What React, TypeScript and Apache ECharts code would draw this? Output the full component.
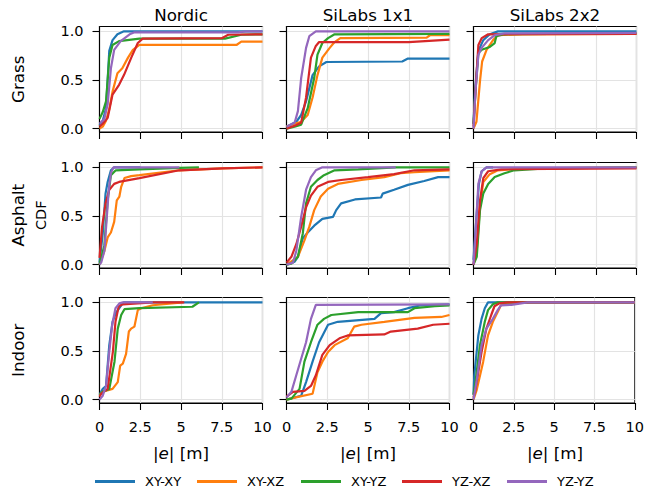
import React, { useEffect, useRef } from "react";
import * as echarts from "echarts";

type Pt = [number, number];

const seriesNames = ["XY-XY", "XY-XZ", "XY-YZ", "YZ-XZ", "YZ-YZ"];
const colors = ["#1f77b4", "#ff7f0e", "#2ca02c", "#d62728", "#9467bd"];
const columnTitles = ["Nordic", "SiLabs 1x1", "SiLabs 2x2"];
const rowLabels = ["Grass", "Asphalt", "Indoor"];
const xTicks = [0, 2.5, 5, 7.5, 10];
const yTicks = [0, 0.5, 1];

// each panel: [XY-XY, XY-XZ, XY-YZ, YZ-XZ, YZ-YZ], points [|e| in m, CDF]
const grassNordic: Pt[][] = [
  [[0, 0.03], [0.2, 0.08], [0.4, 0.21], [0.5, 0.5], [0.6, 0.8], [0.8, 0.91], [1.1, 0.97], [1.5, 1.0], [10, 1.0]],
  [[0, 0], [0.2, 0.02], [0.4, 0.08], [0.6, 0.2], [0.8, 0.38], [1.1, 0.57], [1.4, 0.62], [1.75, 0.73], [2.05, 0.81], [2.45, 0.86], [8.4, 0.86], [8.7, 0.895], [10, 0.895]],
  [[0, 0.1], [0.2, 0.17], [0.4, 0.28], [0.5, 0.5], [0.6, 0.73], [0.8, 0.86], [1.2, 0.9], [2.45, 0.925], [7.7, 0.925], [8.7, 0.965], [10, 0.97]],
  [[0, 0.02], [0.2, 0.05], [0.5, 0.11], [0.8, 0.35], [1.2, 0.45], [1.5, 0.55], [1.95, 0.73], [2.35, 0.88], [2.65, 0.925], [7.5, 0.93], [7.9, 0.965], [10, 0.97]],
  [[0, 0.05], [0.3, 0.1], [0.5, 0.25], [0.7, 0.62], [0.9, 0.81], [1.3, 0.9], [1.85, 0.97], [2.15, 0.99], [8.5, 0.99], [9, 1.0], [10, 1.0]],
];
const grassSiLabs1: Pt[][] = [
  [[0, 0.02], [0.6, 0.07], [0.9, 0.14], [1.2, 0.28], [1.6, 0.55], [2.0, 0.64], [2.45, 0.685], [7.1, 0.69], [7.45, 0.72], [10, 0.72]],
  [[0, 0.02], [0.5, 0.05], [0.9, 0.07], [1.3, 0.14], [1.6, 0.32], [1.9, 0.55], [2.2, 0.73], [2.65, 0.83], [2.95, 0.89], [3.3, 0.93], [8.6, 0.935], [8.8, 0.96], [10, 0.96]],
  [[0, 0], [0.5, 0.02], [0.9, 0.04], [1.3, 0.21], [1.7, 0.52], [1.9, 0.76], [2.2, 0.88], [2.55, 0.93], [2.95, 0.97], [10, 0.975]],
  [[0, 0], [0.5, 0.03], [0.9, 0.06], [1.2, 0.32], [1.5, 0.73], [1.8, 0.85], [2.0, 0.89], [7.5, 0.89], [10, 0.915]],
  [[0, 0.02], [0.5, 0.06], [0.7, 0.18], [0.9, 0.52], [1.2, 0.83], [1.4, 0.95], [1.8, 1.0], [10, 1.0]],
];
const grassSiLabs2: Pt[][] = [
  [[0, 0.05], [0.1, 0.4], [0.3, 0.8], [0.6, 0.91], [1.0, 0.97], [1.5, 1.0], [10, 1.0]],
  [[0, 0], [0.18, 0.07], [0.4, 0.49], [0.53, 0.69], [0.8, 0.81], [1.2, 0.91], [1.5, 0.96], [3, 0.97], [10, 0.975]],
  [[0, 0.05], [0.12, 0.38], [0.3, 0.78], [0.5, 0.81], [1.0, 0.84], [1.3, 0.88], [1.4, 0.95], [1.9, 0.97], [10, 0.98]],
  [[0, 0.02], [0.18, 0.55], [0.3, 0.86], [0.5, 0.93], [0.9, 0.97], [10, 0.975]],
  [[0, 0], [0.12, 0.38], [0.3, 0.76], [0.5, 0.83], [0.9, 0.91], [1.3, 0.96], [1.9, 0.98], [10, 0.985]],
];
const asphaltNordic: Pt[][] = [
  [[0, 0.02], [0.2, 0.32], [0.37, 0.73], [0.5, 0.85], [0.7, 0.97], [0.9, 1.0], [2.5, 1.0]],
  [[0, 0], [0.3, 0.14], [0.5, 0.28], [0.7, 0.33], [0.9, 0.44], [1.06, 0.66], [1.22, 0.7], [1.33, 0.8], [1.53, 0.89], [1.94, 0.91], [2.45, 0.92], [4.9, 0.97], [7.55, 0.99], [10, 1.0]],
  [[0, 0], [0.3, 0.2], [0.5, 0.66], [0.7, 0.92], [1.0, 0.97], [2.45, 0.98], [4.9, 0.995], [6.1, 1.0]],
  [[0, 0.07], [0.16, 0.39], [0.37, 0.63], [0.6, 0.77], [0.9, 0.83], [1.2, 0.85], [2.45, 0.89], [4.9, 0.97], [7.55, 0.99], [10, 1.0]],
  [[0, 0], [0.1, 0.02], [0.3, 0.14], [0.45, 0.49], [0.57, 0.77], [0.7, 0.94], [0.85, 1.0], [4.9, 1.0]],
];
const asphaltSiLabs1: Pt[][] = [
  [[0, 0], [0.5, 0.03], [0.7, 0.08], [1.0, 0.27], [1.3, 0.33], [1.7, 0.4], [2.2, 0.47], [2.85, 0.49], [3.05, 0.56], [3.35, 0.63], [4.2, 0.67], [5.8, 0.69], [5.9, 0.73], [6.6, 0.77], [7.45, 0.82], [8.45, 0.86], [9.3, 0.9], [10, 0.9]],
  [[0, 0], [0.7, 0.08], [1.1, 0.25], [1.4, 0.39], [1.7, 0.56], [2.1, 0.7], [2.55, 0.78], [3.15, 0.83], [4.6, 0.87], [6.0, 0.9], [7.0, 0.94], [7.85, 0.95], [10, 0.97]],
  [[0, 0], [0.3, 0.01], [0.7, 0.08], [1.0, 0.32], [1.2, 0.63], [1.5, 0.8], [1.9, 0.87], [2.3, 0.92], [2.95, 0.97], [4.4, 0.98], [6.7, 1.0], [10, 1.0]],
  [[0, 0.02], [0.3, 0.08], [0.6, 0.21], [0.9, 0.39], [1.2, 0.59], [1.5, 0.71], [1.9, 0.8], [2.55, 0.85], [3.35, 0.87], [5.0, 0.9], [6.6, 0.93], [7.85, 0.97], [10, 0.98]],
  [[0, 0], [0.4, 0.02], [0.6, 0.14], [0.9, 0.49], [1.2, 0.77], [1.5, 0.9], [1.8, 0.97], [2.2, 1.0], [6.7, 1.0]],
];
const asphaltSiLabs2: Pt[][] = [
  [[0, 0.05], [0.18, 0.49], [0.33, 0.83], [0.5, 0.96], [0.8, 1.0], [1.2, 1.0]],
  [[0, 0], [0.2, 0.14], [0.4, 0.6], [0.6, 0.85], [1.0, 0.93], [1.5, 0.97], [3.35, 0.99], [10, 1.0]],
  [[0, 0], [0.2, 0.08], [0.4, 0.56], [0.6, 0.73], [0.9, 0.83], [1.3, 0.9], [1.9, 0.94], [2.5, 0.97], [4.4, 0.99], [10, 1.0]],
  [[0, 0], [0.2, 0.21], [0.4, 0.66], [0.6, 0.89], [0.9, 0.96], [1.7, 0.98], [10, 0.99]],
  [[0, 0], [0.12, 0.32], [0.3, 0.83], [0.5, 0.96], [0.8, 1.0], [10, 1.0]],
];
const indoorNordic: Pt[][] = [
  [[0, 0.05], [0.2, 0.11], [0.4, 0.14], [0.6, 0.56], [0.8, 0.8], [1.0, 0.89], [1.33, 0.97], [1.5, 1.0], [10, 1.0]],
  [[0, 0.05], [0.2, 0.08], [0.8, 0.11], [1.12, 0.18], [1.27, 0.35], [1.43, 0.37], [1.63, 0.47], [1.8, 0.7], [1.94, 0.73], [2.14, 0.75], [2.35, 0.92], [2.55, 0.94], [3.27, 0.97], [5.1, 1.0]],
  [[0, 0.05], [0.2, 0.08], [0.6, 0.11], [0.92, 0.39], [1.12, 0.73], [1.33, 0.87], [1.53, 0.93], [2.45, 0.94], [5.7, 0.955], [6.1, 1.0]],
  [[0, 0.03], [0.1, 0.06], [0.5, 0.11], [0.82, 0.49], [0.98, 0.8], [1.18, 0.96], [1.43, 0.98], [3.27, 1.0], [5.2, 1.0]],
  [[0, 0], [0.2, 0.04], [0.4, 0.14], [0.6, 0.49], [0.78, 0.77], [0.98, 0.94], [1.22, 0.99], [1.43, 1.0], [3.27, 1.0]],
];
const indoorSiLabs1: Pt[][] = [
  [[0, 0], [0.9, 0.04], [1.2, 0.18], [1.6, 0.39], [2.0, 0.59], [2.55, 0.77], [3.15, 0.8], [5.4, 0.83], [5.8, 0.89], [6.6, 0.9], [7.45, 0.94], [8.25, 0.97], [10, 0.98]],
  [[0, 0], [0.5, 0.02], [1.6, 0.06], [1.9, 0.28], [2.2, 0.39], [2.55, 0.49], [2.95, 0.56], [3.75, 0.63], [4.15, 0.75], [4.6, 0.77], [6.0, 0.8], [7.85, 0.84], [9.5, 0.85], [10, 0.87]],
  [[0, 0], [0.3, 0.01], [0.8, 0.11], [1.1, 0.39], [1.5, 0.59], [1.9, 0.77], [2.3, 0.83], [2.75, 0.87], [4.4, 0.9], [7.45, 0.9], [7.85, 0.94], [9.1, 0.96], [10, 0.97]],
  [[0, 0.03], [0.4, 0.08], [1.1, 0.09], [1.5, 0.14], [1.8, 0.25], [2.2, 0.46], [2.65, 0.56], [3.25, 0.63], [3.75, 0.66], [6.0, 0.67], [6.4, 0.7], [8.05, 0.73], [9.0, 0.77], [10, 0.78]],
  [[0, 0.02], [0.3, 0.08], [0.6, 0.25], [0.9, 0.42], [1.2, 0.59], [1.5, 0.83], [1.8, 0.975], [10, 0.98]],
];
const indoorSiLabs2: Pt[][] = [
  [[0, 0.05], [0.05, 0.25], [0.3, 0.66], [0.5, 0.83], [0.7, 0.94], [0.9, 1.0], [10, 1.0]],
  [[0, 0], [0.2, 0.1], [0.6, 0.39], [0.9, 0.66], [1.2, 0.8], [1.5, 0.9], [1.7, 0.97], [2.35, 1.0], [10, 1.0]],
  [[0, 0.05], [0.1, 0.15], [0.4, 0.56], [0.7, 0.8], [0.9, 0.92], [1.2, 0.98], [1.5, 1.0], [10, 1.0]],
  [[0, 0.02], [0.1, 0.08], [0.5, 0.49], [0.8, 0.73], [1.1, 0.87], [1.3, 0.96], [1.6, 0.99], [2.1, 1.0], [10, 1.0]],
  [[0, 0], [0.2, 0.2], [0.5, 0.56], [0.8, 0.73], [1.2, 0.83], [1.5, 0.92], [1.7, 0.97], [2.35, 0.975], [2.95, 0.99], [3.35, 1.0], [10, 1.0]],
];

const panels: Pt[][][][] = [
  [grassNordic, grassSiLabs1, grassSiLabs2],
  [asphaltNordic, asphaltSiLabs1, asphaltSiLabs2],
  [indoorNordic, indoorSiLabs1, indoorSiLabs2],
];

const FONT = "DejaVu Sans";
const colLeft = [99.5, 286.5, 473.5];
const rowTop = [26.5, 162.5, 297.5];
const W = 163;
const H = 105.5;
const legendLeft = [95, 197, 301, 402, 507];

export default function App() {
  const ref = useRef<HTMLDivElement>(null);
  useEffect(() => {
    document.body.style.margin = "0";
    if (!ref.current) return;
    const chart = echarts.init(ref.current, null, { renderer: "svg" });
    const grids: any[] = [];
    const xAxes: any[] = [];
    const yAxes: any[] = [];
    const series: any[] = [];
    let idx = 0;
    for (let r = 0; r < 3; r++) {
      for (let c = 0; c < 3; c++) {
        grids.push({
          left: colLeft[c], top: rowTop[r], width: W, height: H,
          show: true, borderColor: "#000", borderWidth: 1.1, backgroundColor: "transparent",
        });
        xAxes.push({
          gridIndex: idx, type: "value", min: xTicks[0], max: xTicks[xTicks.length - 1], interval: 2.5,
          axisLine: { show: true, onZero: false, lineStyle: { color: "#000", width: 1.1 } },
          axisTick: { show: true, length: 7, lineStyle: { color: "#000", width: 1.1 } },
          axisLabel: {
            show: r === 2, margin: 16, fontSize: 14.5, color: "#000", fontFamily: FONT,
            formatter: (v: number) => String(v),
          },
          splitLine: { show: true, lineStyle: { color: "#e3e3e3", width: 1.2 } },
        });
        yAxes.push({
          gridIndex: idx, type: "value", min: -0.035, max: 1.05,
          axisLine: { show: true, onZero: false, lineStyle: { color: "#000", width: 1.1 } },
          axisTick: { show: true, length: 7, customValues: yTicks, lineStyle: { color: "#000", width: 1.1 } },
          axisLabel: {
            show: c === 0, margin: 16, fontSize: 14.5, color: "#000", fontFamily: FONT,
            customValues: yTicks, formatter: (v: number) => v.toFixed(1),
          },
          splitLine: { show: true, lineStyle: { color: "#e3e3e3", width: 1.2 } },
        });
        const panel = panels[r][c];
        panel.forEach((pts, k) => {
          series.push({
            type: "line", name: seriesNames[k], xAxisIndex: idx, yAxisIndex: idx,
            data: pts, showSymbol: false, symbol: "none",
            lineStyle: { width: 2.2, color: colors[k] }, itemStyle: { color: colors[k] },
            emphasis: { disabled: true }, silent: true,
          });
        });
        idx++;
      }
    }
    const graphic: any[] = [];
    columnTitles.forEach((t, c) => {
      graphic.push({
        type: "text", x: colLeft[c] + W / 2, y: 15,
        style: { text: t, fontSize: 16.7, fontFamily: FONT, fill: "#000", align: "center", verticalAlign: "middle" },
      });
      graphic.push({
        type: "text", x: colLeft[c] + W / 2, y: 453,
        style: {
          text: "|{i|e}| [m]", fontSize: 16.7, fontFamily: FONT, fill: "#000", align: "center", verticalAlign: "middle",
          rich: { i: { fontStyle: "italic", fontSize: 16.7, fontFamily: FONT, fill: "#000" } },
        },
      });
    });
    rowLabels.forEach((t, r) => {
      graphic.push({
        type: "text", x: 18, y: rowTop[r] + H / 2, rotation: Math.PI / 2,
        style: { text: t, fontSize: 16.7, fontFamily: FONT, fill: "#000", align: "center", verticalAlign: "middle" },
      });
    });
    graphic.push({
      type: "text", x: 41, y: rowTop[1] + H / 2, rotation: Math.PI / 2,
      style: { text: "CDF", fontSize: 14.5, fontFamily: FONT, fill: "#000", align: "center", verticalAlign: "middle" },
    });
    const legends = seriesNames.map((n, k) => ({
      data: [n], left: legendLeft[k], top: 475, padding: 0, itemWidth: 40, itemHeight: 3,
      icon: "rect", selectedMode: false,
      textStyle: { fontSize: 13, color: "#000", fontFamily: FONT, padding: [0, 0, 0, 5] },
    }));
    chart.setOption({
      animation: false,
      color: colors,
      textStyle: { fontFamily: FONT },
      grid: grids,
      xAxis: xAxes,
      yAxis: yAxes,
      series,
      legend: legends,
      graphic,
    });
    return () => chart.dispose();
  }, []);
  return <div ref={ref} style={{ width: 647, height: 493 }} />;
}
